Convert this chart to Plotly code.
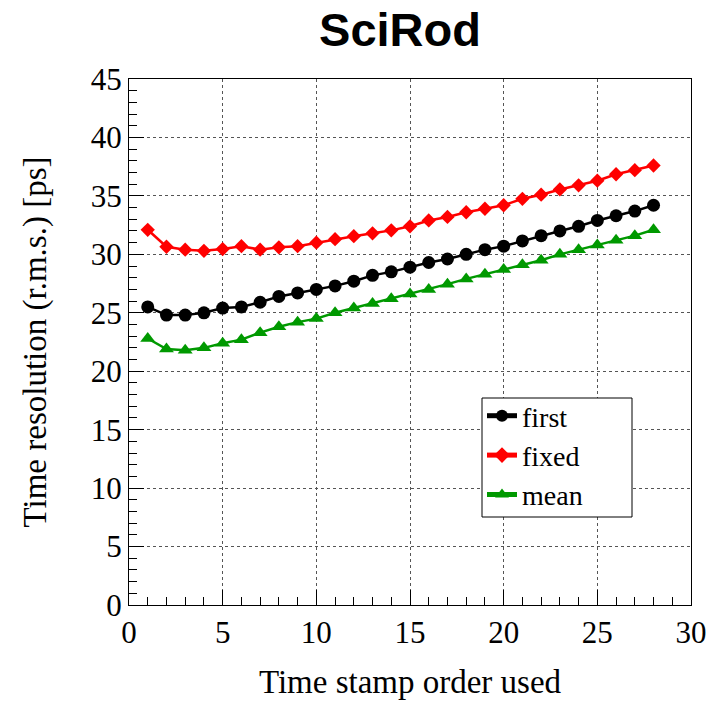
import plotly.graph_objects as go

x_vals = list(range(1, 29))
first = [25.5, 24.8, 24.8, 25.0, 25.4, 25.5, 25.9, 26.4, 26.7, 27.0, 27.3, 27.7, 28.2, 28.5, 28.9,
         29.3, 29.6, 30.0, 30.4, 30.7, 31.15, 31.6, 32.0, 32.4, 32.9, 33.3, 33.7, 34.2]
fixed = [32.1, 30.65, 30.4, 30.3, 30.45, 30.7, 30.4, 30.6, 30.7, 31.0, 31.3, 31.55, 31.8, 32.05, 32.4,
         32.9, 33.2, 33.6, 33.9, 34.2, 34.75, 35.1, 35.55, 35.9, 36.3, 36.85, 37.2, 37.6]
mean = [22.8, 21.9, 21.8, 22.0, 22.4, 22.7, 23.3, 23.8, 24.2, 24.5, 25.0, 25.4, 25.8, 26.2, 26.6,
        27.0, 27.45, 27.9, 28.3, 28.7, 29.1, 29.5, 30.0, 30.4, 30.8, 31.2, 31.6, 32.1]

series = [
    ("first", first, "black", "circle", 13),
    ("fixed", fixed, "#ff0000", "diamond", 11),
    ("mean", mean, "#009900", "triangle-up", 13),
]

fig = go.Figure()
for name, ys, color, sym, sz in series:
    fig.add_trace(go.Scatter(
        x=x_vals, y=ys, name=name, mode="lines+markers",
        line=dict(color=color, width=2.5),
        marker=dict(symbol=sym, size=sz, color=color, line=dict(width=0)),
    ))

serif = "Liberation Serif, Times New Roman, serif"
axis_common = dict(
    showline=True, linecolor="black", linewidth=1, mirror=True,
    ticks="inside", ticklen=15, tickcolor="black", tickwidth=1,
    showgrid=True, gridcolor="#555555", griddash="dot", gridwidth=1,
    zeroline=False, automargin=False,
    tickfont=dict(family=serif, size=31, color="black"),
)

fig.update_xaxes(
    range=[0, 30], dtick=5, tick0=0,
    minor=dict(dtick=1, ticks="inside", ticklen=8, tickcolor="black", showgrid=False),
    title=dict(text="Time stamp order used", standoff=20,
               font=dict(family=serif, size=33, color="black")),
    **axis_common,
)
fig.update_yaxes(
    range=[0, 45], dtick=5, tick0=0,
    minor=dict(dtick=1, ticks="inside", ticklen=8, tickcolor="black", showgrid=False),
    title=dict(text="Time resolution (r.m.s.) [ps]", standoff=34,
               font=dict(family=serif, size=33, color="black")),
    **axis_common,
)

L, T, PW, PH = 129, 79, 562, 526

def px_to_paper_x(px):
    return (px - L) / PW

def px_to_paper_y(py):
    return (T + PH - py) / PH

fig.add_shape(
    type="rect", xref="paper", yref="paper",
    x0=px_to_paper_x(482), x1=px_to_paper_x(632),
    y0=px_to_paper_y(517), y1=px_to_paper_y(398),
    line=dict(color="black", width=1), fillcolor="white", layer="above",
)

fig.update_layout(
    width=711, height=701,
    margin=dict(l=L, r=711 - L - PW, t=T, b=701 - T - PH, autoexpand=False),
    paper_bgcolor="white", plot_bgcolor="white",
    title=dict(text="<b>SciRod</b>", x=400 / 711, xanchor="center", y=1 - 30 / 701, yanchor="middle",
               font=dict(family="Liberation Sans, Arial, sans-serif", size=47, color="black")),
    legend=dict(
        x=px_to_paper_x(482), y=px_to_paper_y(391), xanchor="left", yanchor="top",
        borderwidth=0, bgcolor="rgba(0,0,0,0)",
        font=dict(family=serif, size=28, color="black"),
        itemsizing="constant", tracegroupgap=0,
    ),
    showlegend=True,
)

fig.write_html("out.html")
